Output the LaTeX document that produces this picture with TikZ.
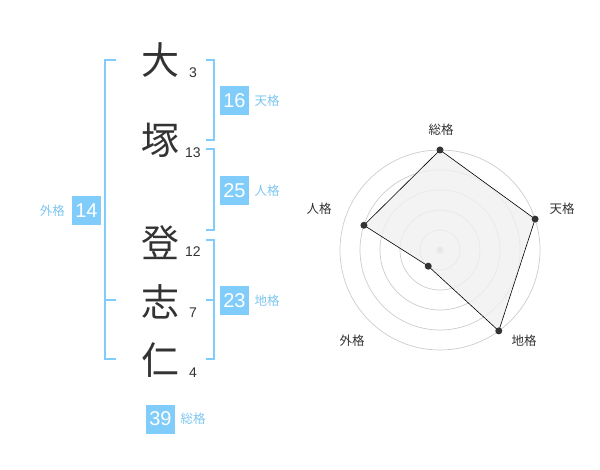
\documentclass[tikz,border=0pt]{standalone}
\usepackage{fontspec}
\setmainfont{Noto Sans CJK JP}
\newfontfamily\numfont{Liberation Sans}
\usetikzlibrary{positioning}

\definecolor{boxblue}{RGB}{128,204,250}
\definecolor{lblblue}{RGB}{125,198,240}
\definecolor{ink}{RGB}{51,51,51}

\tikzset{
	kanji/.style={text=ink, font=\fontsize{38}{38}\selectfont},
	strokes/.style={text=ink, font=\numfont\fontsize{14}{14}\selectfont},
	scorebox/.style={fill=boxblue, text=white, minimum size=29pt, inner sep=0pt, font=\numfont\fontsize{20}{20}\selectfont},
	scorelbl/.style={text=lblblue, font=\fontsize{12.5}{12.5}\selectfont},
	bracket/.style={draw=boxblue, line width=2pt},
	ring/.style={draw=black!20, line width=0.7pt},
	dot/.style={circle, fill=ink, inner sep=0pt, minimum size=7pt},
	axislbl/.style={text=ink, font=\fontsize{12.5}{12.5}\selectfont}
}

\begin{document}
\begin{tikzpicture}[x=1pt,y=-1pt]
		\useasboundingbox (0,0) rectangle (600,470);

		% name
		\node[kanji] (k1) at (160,60) {大};
		\node[kanji] (k2) at (160,140) {塚};
		\node[kanji] (k3) at (160,243) {登};
		\node[kanji] (k4) at (160,302) {志};
		\node[kanji] (k5) at (160,360) {仁};

		% stroke counts
		\node[strokes] (n1) at (193,73) {3};
		\node[strokes] (n2) at (193,153) {13};
		\node[strokes] (n3) at (193,252) {12};
		\node[strokes] (n4) at (193,313) {7};
		\node[strokes] (n5) at (193,373) {4};

		% brackets
		\draw[bracket] (116,60) -- (105,60) -- (105,359) -- (116,359);
		\draw[bracket] (105,300) -- (116,300);
		\draw[bracket] (206,60) -- (214,60) -- (214,140) -- (206,140);
		\draw[bracket] (206,149) -- (214,149) -- (214,230) -- (206,230);
		\draw[bracket] (206,240) -- (214,240) -- (214,359) -- (206,359);
		\draw[bracket] (206,300) -- (214,300);

		% scores
		\node[scorebox] (ten) at (234.5,100.5) {16};
		\node[scorelbl, right=2pt of ten] (tenl) {天格};
		\node[scorebox] (jin) at (234.5,190.5) {25};
		\node[scorelbl, right=2pt of jin] (jinl) {人格};
		\node[scorebox] (chi) at (234.5,300.5) {23};
		\node[scorelbl, right=2pt of chi] (chil) {地格};
		\node[scorebox] (gai) at (86.5,210.5) {14};
		\node[scorelbl, left=3.5pt of gai] (gail) {外格};
		\node[scorebox] (sou) at (160.5,419) {39};
		\node[scorelbl, right=2pt of sou] (soul) {総格};

		% radar
		\begin{scope}[shift={(440,250)},x=1pt,y=1pt]
			\foreach \r in {20,40,60,80,100}
				\draw[ring] (0,0) circle[radius=\r pt];
			\fill[black!20] (0,0) circle[radius=3.5pt];
			\coordinate (v1) at (90:100);
			\coordinate (v2) at (18:100);
			\coordinate (v3) at (-54:100);
			\coordinate (v4) at (-126:20);
			\coordinate (v5) at (162:80);
			\draw[fill=black!6, fill opacity=0.8, draw=black, line width=0.6pt] (v1) -- (v2) -- (v3) -- (v4) -- (v5) -- cycle;
			\foreach \i in {1,...,5}
				\node[dot] (d\i) at (v\i) {};
		\end{scope}

		% axis labels
		\node[axislbl] (a1) at (441,130) {総格};
		\node[axislbl] (a2) at (562,209) {天格};
		\node[axislbl] (a3) at (524,341) {地格};
		\node[axislbl] (a4) at (352,341) {外格};
		\node[axislbl] (a5) at (319,209) {人格};
\end{tikzpicture}
\end{document}
